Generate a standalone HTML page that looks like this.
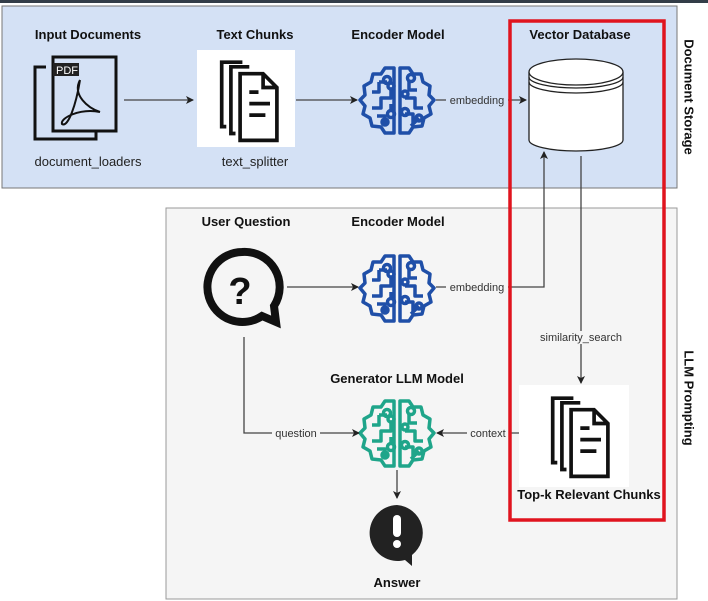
<!DOCTYPE html><html><head><style>body{margin:0;background:#fff}svg{display:block}text{font-family:"Liberation Sans",sans-serif}</style></head><body>
<svg width="708" height="601" viewBox="0 0 708 601" xmlns="http://www.w3.org/2000/svg">
<defs>
<marker id="a" markerWidth="8" markerHeight="8" refX="7" refY="4" orient="auto" markerUnits="userSpaceOnUse"><path d="M0,0 L8,4 L0,8 L2,4z" fill="#222"/></marker>
<g id="brain" fill="none" stroke-width="3.5" stroke-linejoin="round">
<path d="M-3,-32 L-12,-32 L-16,-26 L-24,-26 L-26,-18 L-33,-14 L-32,-5 L-37,0 L-32,6 L-34,14 L-27,18 L-25,26 L-16,27 L-12,33 L-3,33 Z"/>
<path d="M3,-32 L12,-32 L16,-26 L24,-26 L26,-18 L33,-14 L32,-5 L37,0 L32,6 L34,14 L27,18 L25,26 L16,27 L12,33 L3,33 Z"/>
<path d="M-25,-8 L-18,-8 L-18,-18 M-18,-18 L-10,-18 M-25,8 L-16,8 L-16,-2 L-6,-2 L-6,-10 M-20,16 L-12,16 L-12,24 M-6,4 L-6,12 M12,-20 L12,-10 L20,-10 M8,-2 L18,-2 L18,8 L26,8 M8,14 L16,14 L16,24 M22,18 L14,26"/>
<circle cx="-10" cy="-20" r="3.5"/><circle cx="-6" cy="-14" r="3"/><circle cx="-6" cy="14" r="3.5"/><circle cx="-12" cy="22" r="3"/><circle cx="14" cy="-22" r="3.5"/><circle cx="8" cy="-6" r="3"/><circle cx="8" cy="12" r="3.5"/><circle cx="22" cy="18" r="3"/>
</g>
<g id="docs" fill="none" stroke="#111" stroke-width="3.2">
<path d="M-4,-32 L-22,-32 L-22,24 L-18,24 M2,-28 L-14,-28 L-14,30 L-10,30 M-6,-22 L14,-22 L26,-10 L26,36 L-6,36 Z M14,-22 L14,-10 L26,-10"/>
<path d="M2,-6 L10,-6 M2,4 L20,4 M2,14 L16,14"/>
</g>
</defs>
<rect x="0" y="0" width="708" height="3" fill="#333d48"/>
<rect x="2" y="6" width="675" height="182" fill="#d4e1f5" stroke="#777" stroke-width="1"/>
<rect x="166" y="208" width="511" height="391" fill="#f5f5f5" stroke="#999" stroke-width="1"/>
<text x="688" y="97" transform="rotate(90 688 97)" text-anchor="middle" font-size="13" font-weight="bold" fill="#111" dominant-baseline="middle">Document Storage</text>
<text x="688" y="398" transform="rotate(90 688 398)" text-anchor="middle" font-size="13" font-weight="bold" fill="#111" dominant-baseline="middle">LLM Prompting</text>
<g font-size="13" font-weight="bold" fill="#111" text-anchor="middle">
<text x="88" y="39">Input Documents</text><text x="255" y="39">Text Chunks</text><text x="398" y="39">Encoder Model</text><text x="580" y="39">Vector Database</text>
<text x="246" y="226">User Question</text><text x="398" y="226">Encoder Model</text><text x="397" y="383">Generator LLM Model</text><text x="589" y="499">Top-k Relevant Chunks</text><text x="397" y="587">Answer</text>
</g>
<g font-size="13" fill="#222" text-anchor="middle"><text x="88" y="166">document_loaders</text><text x="255" y="166">text_splitter</text></g>
<g fill="none" stroke="#111" stroke-width="3"><path d="M46,67 L35,67 L35,139 L96,139 L96,132"/><rect x="53" y="57" width="63" height="74"/></g>
<rect x="53" y="63" width="26" height="13" fill="#222"/><text x="56" y="74" font-size="11" fill="#fff">PDF</text>
<path d="M80,80 C72,95 88,108 100,112 C80,108 60,118 62,124 C68,128 76,105 80,80" fill="none" stroke="#111" stroke-width="2"/>
<rect x="197" y="50" width="98" height="97" fill="#fff"/>
<use href="#docs" transform="translate(247,99) scale(1.15)"/>
<rect x="519" y="385" width="110" height="102" fill="#fff"/>
<use href="#docs" transform="translate(578,435) scale(1.15)"/>
<use href="#brain" x="397" y="100" stroke="#1f4fa8"/>
<use href="#brain" x="397" y="288" stroke="#1f4fa8"/>
<use href="#brain" x="397" y="433" stroke="#1fa58a"/>
<path d="M529,72 L529,140 A47,11 0 0 0 623,140 L623,72" fill="#fff" stroke="#222" stroke-width="1.3"/>
<ellipse cx="576" cy="72" rx="47" ry="13" fill="#fff" stroke="#222" stroke-width="1.3"/>
<path d="M529,77 A47,11 0 0 0 623,77 M529,82 A47,11 0 0 0 623,82" fill="none" stroke="#222" stroke-width="1.3"/>
<path d="M242,252 A35,35 0 1 0 262,316 L276,322 L274,306 A35,35 0 0 0 242,252Z" fill="none" stroke="#111" stroke-width="8"/>
<text x="240" y="304" font-size="38" font-weight="bold" text-anchor="middle" fill="#111">?</text>
<path d="M397,505 A28,28 0 1 0 405,560 L412,566 L412,555 A28,28 0 0 0 397,505Z" fill="#222"/>
<rect x="393" y="515" width="8" height="22" rx="4" fill="#fff"/><circle cx="397" cy="544" r="4" fill="#fff"/>
<g stroke="#444" stroke-width="1.3" fill="none" marker-end="url(#a)">
<line x1="124" y1="100" x2="193" y2="100"/><line x1="296" y1="100" x2="357" y2="100"/>
<line x1="436" y1="100" x2="526" y2="100"/>
<line x1="287" y1="287" x2="358" y2="287"/>
<path d="M436,287 L544,287 L544,152"/>
<line x1="581" y1="156" x2="581" y2="383"/>
<path d="M244,337 L244,433 L359,433"/>
<line x1="519" y1="433" x2="437" y2="433"/>
<line x1="397" y1="470" x2="397" y2="498"/>
</g>
<g font-size="11" fill="#333" text-anchor="middle">
<rect x="446" y="93" width="62" height="13" fill="#d4e1f5"/><text x="477" y="104">embedding</text>
<rect x="446" y="281" width="62" height="13" fill="#f5f5f5"/><text x="477" y="291">embedding</text>
<rect x="535" y="331" width="92" height="13" fill="#f5f5f5"/><text x="581" y="341">similarity_search</text>
<rect x="272" y="427" width="48" height="13" fill="#f5f5f5"/><text x="296" y="437">question</text>
<rect x="467" y="427" width="42" height="13" fill="#f5f5f5"/><text x="488" y="437">context</text>
</g>
<rect x="510" y="21" width="154" height="499" fill="none" stroke="#e0141e" stroke-width="3.5"/>
</svg></body></html>
